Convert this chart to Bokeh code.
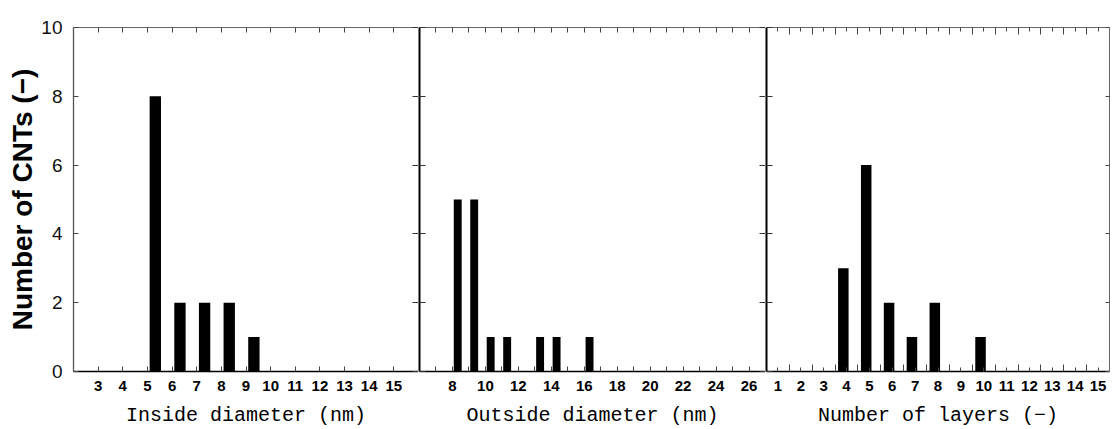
from bokeh.plotting import figure
from bokeh.layouts import row
from bokeh.models import ColumnDataSource, Range1d, LinearAxis, FixedTicker, Grid
from bokeh.transform import dodge
from bokeh.embed import file_html
from bokeh.resources import INLINE

# ---- data ----
inside_bins = [5, 6, 7, 8, 9]
inside_counts = [8, 2, 2, 2, 1]
outside_bins = [8, 9, 10, 11, 13, 14, 16]
outside_counts = [5, 5, 1, 1, 1, 1, 1]
layer_bins = [4, 5, 6, 7, 8, 10]
layer_counts = [3, 6, 2, 1, 2, 1]

inside_ticks = list(range(3, 16))
outside_ticks = list(range(8, 27, 2))
outside_minor = list(range(7, 27, 2))
layer_ticks = list(range(1, 16))
layer_minor = [k + 0.5 for k in range(1, 15)]
y_ticks = [0, 2, 4, 6, 8, 10]

y_title = "Number of CNTs (−)"
x_titles = ["Inside diameter (nm)", "Outside diameter (nm)", "Number of layers (−)"]

H = 429
TOP = 27
BOTTOM = H - TOP - 345


def hidden_axis(ticks, **kw):
    ax = LinearAxis(major_label_overrides={t: "" for t in ticks},
                    major_label_text_font_size="10px", major_label_standoff=0,
                    major_tick_out=0, minor_tick_out=0, axis_label=None, **kw)
    return ax


def panel(bins, counts, xr, ticks, minor, xlabel, offset, bw, width, bl, br,
          left_kind, right_kind, maj_len=5, min_len=5):
    p = figure(width=width, height=H, x_range=Range1d(*xr), y_range=Range1d(0, 10),
               output_backend="svg", toolbar_location=None,
               x_axis_location=None, y_axis_location=None,
               min_border_left=bl, min_border_right=br,
               min_border_top=TOP, min_border_bottom=BOTTOM)
    p.outline_line_color = None
    p.background_fill_color = "white"
    p.border_fill_color = "white"
    p.center = [c for c in p.center if not isinstance(c, Grid)]

    xt = FixedTicker(ticks=ticks, minor_ticks=minor)
    yt = FixedTicker(ticks=y_ticks)

    bottom = LinearAxis(ticker=xt, axis_label=xlabel,
                        axis_line_color="black", axis_line_width=1.5,
                        major_tick_in=maj_len, major_tick_out=0,
                        minor_tick_in=min_len, minor_tick_out=0,
                        major_tick_line_color="#444", minor_tick_line_color="#444",
                        major_label_text_font="Liberation Sans",
                        major_label_text_font_style="bold",
                        major_label_text_font_size="15px",
                        major_label_text_color="black",
                        major_label_standoff=9,
                        axis_label_text_font="Liberation Mono",
                        axis_label_text_font_style="normal",
                        axis_label_text_font_size="20px",
                        axis_label_text_color="black",
                        axis_label_standoff=10)
    p.add_layout(bottom, "below")

    top = hidden_axis(ticks, ticker=xt, axis_line_color="#666", axis_line_width=1,
                      major_tick_in=maj_len, minor_tick_in=min_len,
                      major_tick_line_color="#444", minor_tick_line_color="#444")
    p.add_layout(top, "above")

    if left_kind == "labels":
        left = LinearAxis(ticker=yt, axis_label=y_title,
                          axis_line_color="#555", axis_line_width=1.3,
                          major_tick_in=5, major_tick_out=0,
                          major_tick_line_color="#444",
                          major_label_text_font="Liberation Sans",
                          major_label_text_font_size="19px",
                          major_label_text_color="#111",
                          major_label_standoff=11,
                          axis_label_text_font="Liberation Sans",
                          axis_label_text_font_style="bold",
                          axis_label_text_font_size="28px",
                          axis_label_text_color="black",
                          axis_label_standoff=0)
    else:
        left = hidden_axis(y_ticks, ticker=yt, axis_line_color="black", axis_line_width=2,
                           major_tick_in=6, major_tick_line_color="#333")
    p.add_layout(left, "left")

    if right_kind == "divider":
        right = hidden_axis(y_ticks, ticker=yt, axis_line_color=None,
                            major_tick_in=6, major_tick_line_color="#333")
    else:
        right = hidden_axis(y_ticks, ticker=yt, axis_line_color="#666", axis_line_width=1,
                            major_tick_in=4, major_tick_line_color="#444")
    p.add_layout(right, "right")

    src = ColumnDataSource(dict(bin=bins, count=counts))
    p.vbar(x=dodge("bin", offset), top="count", bottom=0, width=bw, source=src,
           fill_color="black", line_color=None)
    return p


p1 = panel(inside_bins, inside_counts, (2, 16), inside_ticks, [], x_titles[0],
           0.32, 0.46, 418, 73, 0, "labels", "divider")
p2 = panel(outside_bins, outside_counts, (6, 27), outside_ticks, outside_minor, x_titles[1],
           0.32, 0.48, 347, 1, 0, "divider", "divider")
p3 = panel(layer_bins, layer_counts, (0.5, 15.5), layer_ticks, layer_minor, x_titles[2],
           -0.14, 0.46, 346, 1, 2, "divider", "frame", maj_len=4, min_len=7)

layout = row(p1, p2, p3)
open("out.html", "w").write(file_html(layout, INLINE))
